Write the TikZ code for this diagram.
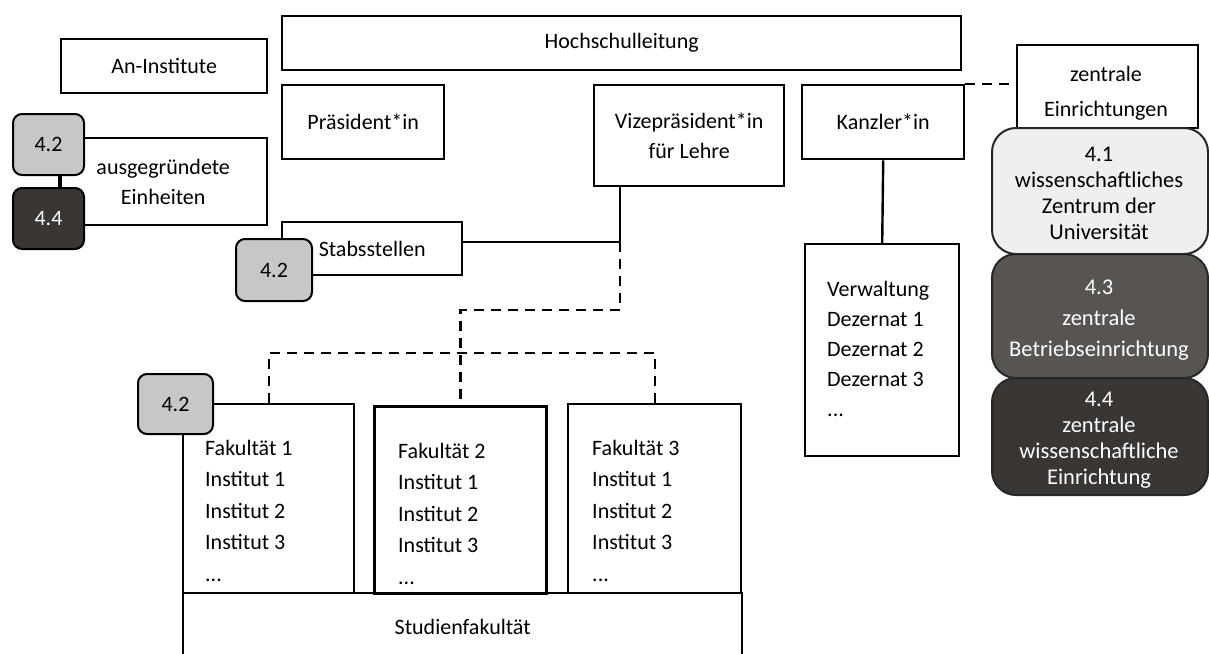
\documentclass[tikz,border=0pt]{standalone}
\usepackage{fontspec}
\setmainfont{Carlito}
\usepackage{tikz}
\usetikzlibrary{positioning}
\definecolor{grau41}{RGB}{239,239,239}
\definecolor{grau42}{RGB}{200,198,198}
\definecolor{grau43}{RGB}{88,84,81}
\definecolor{grau44}{RGB}{58,54,51}

\begin{document}
\begin{tikzpicture}[
    x=1pt, y=-1pt,
    font=\fontsize{22}{30}\selectfont,
    box/.style={rectangle, draw, line width=2.4pt, anchor=north west,
      inner sep=0pt, align=center},
    badge/.style={rectangle, draw, line width=2pt, rounded corners=9pt,
      anchor=north west, minimum width=71pt, minimum height=61pt, inner sep=0pt},
    zentral/.style={rectangle, draw=black!85, line width=2pt, rounded corners=24pt,
      anchor=north west, minimum width=216pt, inner sep=0pt},
    zentraltext/.style={align=center, inner sep=0pt,
      font=\fontsize{22.5}{26}\selectfont},
    liste/.style={anchor=north west, align=left, inner sep=0pt,
      font=\fontsize{22}{31.5}\selectfont},
    verbindung/.style={line width=2.4pt},
    gestrichelt/.style={line width=2.4pt, dash pattern=on 10pt off 7pt}
  ]
    \useasboundingbox (0,0) rectangle (1209,653);

    % Leitung
    \node[box, minimum width=679pt, minimum height=54pt] (hsl) at (281,15) {Hochschulleitung};
    \node[box, minimum width=162pt, minimum height=74pt] (praes) at (281,84) {Präsident*in};
    \node[box, minimum width=190pt, minimum height=101pt] (vize) at (593,84) {Vizepräsident*in\\für Lehre};
    \node[box, minimum width=162pt, minimum height=74pt] (kanzler) at (801,84) {Kanzler*in};

    % links
    \node[box, minimum width=206pt, minimum height=54pt] (anInst) at (60,38) {An-Institute};
    \node[box, minimum width=208pt, minimum height=87pt] (ausgr) at (58,137) {ausgegründete\\Einheiten};
    \node[box, minimum width=180pt, minimum height=53pt] (stab) at (281,221) {Stabsstellen};

    % Verwaltung
    \node[box, minimum width=154pt, minimum height=212pt] (verw) at (804,243) {};
    \node[liste, font=\fontsize{22}{30}\selectfont] (verwtxt) at (827,281)
      {Verwaltung\\Dezernat 1\\Dezernat 2\\Dezernat 3\\...};

    % Fakultaeten
    \node[box, minimum width=171pt, minimum height=189pt] (fak1) at (182,403) {};
    \node[box, line width=3.2pt, minimum width=172pt, minimum height=187pt] (fak2) at (373,405) {};
    \node[box, minimum width=173pt, minimum height=189pt] (fak3) at (567,403) {};
    \node[liste] (fak1txt) at (205,440) {Fakultät 1\\Institut 1\\Institut 2\\Institut 3\\...};
    \node[liste] (fak2txt) at (398,443) {Fakultät 2\\Institut 1\\Institut 2\\Institut 3\\...};
    \node[liste] (fak3txt) at (592,440) {Fakultät 3\\Institut 1\\Institut 2\\Institut 3\\...};
    \node[box, minimum width=559pt, minimum height=68pt] (stud) at (182,592) {Studienfakultät};

    % zentrale Einrichtungen
    \node[box, minimum width=181pt, minimum height=83pt] (zE) at (1016,44) {};
    \node[align=center, inner sep=0pt, font=\fontsize{22}{35}\selectfont] (zEtxt) at (1106,93)
      {zentrale\\Einrichtungen};
    \node[zentral, fill=grau41, minimum height=126pt] (z41) at (991,127) {};
    \node[zentral, fill=grau43, minimum height=124pt] (z43) at (991,253) {};
    \node[zentral, fill=grau44, minimum height=117pt] (z44) at (991,377) {};
    \node[zentraltext] (z41txt) at (1099,193)
      {4.1\\wissenschaftliches\\Zentrum der\\Universität};
    \node[zentraltext, text=white, font=\fontsize{22.5}{31}\selectfont] (z43txt) at (1099,320)
      {4.3\\zentrale\\Betriebseinrichtung};
    \node[zentraltext, text=white] (z44txt) at (1099,440)
      {4.4\\zentrale\\wissenschaftliche\\Einrichtung};

    % Kennzeichnungen
    \node[badge, fill=grau42] (b42a) at (12,113) {4.2};
    \node[badge, fill=grau44, text=white] (b44a) at (12,187) {4.4};
    \node[badge, fill=grau42, minimum width=76pt, minimum height=62pt] (b42b) at (235,238) {4.2};
    \node[badge, fill=grau42, minimum width=75pt, minimum height=60pt] (b42c) at (137,373) {4.2};

    % Verbindungen
    \coordinate (knoten) at (620,242);
    \coordinate (knick) at (620,310);
    \coordinate (fakleiste) at (459,353);
    \draw[verbindung] ([xshift=12.5pt]b42a.south) -- ([xshift=12.5pt]b44a.north);
    \draw[verbindung] (stab.east |- knoten) -- (knoten) -- (knoten |- vize.south);
    \draw[gestrichelt] (knoten) -- (knick) -| (fak2.north);
    \draw[gestrichelt] (fak1.north) |- (fakleiste) -| (fak3.north);
    \draw[verbindung] (kanzler.south) -- (verw.north);
    \draw[gestrichelt] (kanzler.north east) -- (kanzler.north east -| zE.west);
  \end{tikzpicture}
\end{document}
